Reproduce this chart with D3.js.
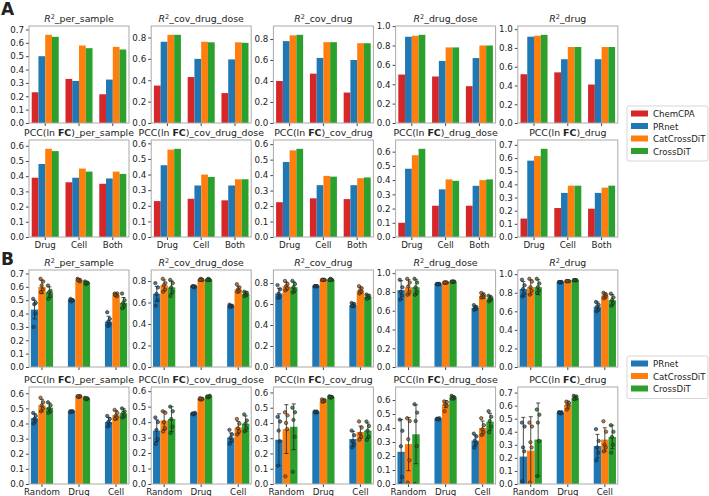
<!DOCTYPE html>
<html>
<head>
<meta charset="utf-8">
<script src="https://cdn.jsdelivr.net/npm/d3@7"></script>
<style>
  body { margin: 0; background: #fff; }
  text { font-family: "DejaVu Sans", sans-serif; fill: #222; }
</style>
</head>
<body>
<script>
// ---- categories ----
const groupsA = ['Drug', 'Cell', 'Both'];
const modelsA = ['ChemCPA', 'PRnet', 'CatCrossDiT', 'CrossDiT'];
const groupsB = ['Random', 'Drug', 'Cell'];
const modelsB = ['PRnet', 'CatCrossDiT', 'CrossDiT'];
const metrics = ['per_sample', 'cov_drug_dose', 'cov_drug', 'drug_dose', 'drug'];

// ---- panel A values: [metric][group][model] ----
const aR2 = [
  [[0.23, 0.50, 0.66, 0.645], [0.33, 0.315, 0.58, 0.56], [0.215, 0.325, 0.57, 0.55]],
  [[0.35, 0.76, 0.825, 0.825], [0.43, 0.60, 0.76, 0.755], [0.28, 0.595, 0.755, 0.75]],
  [[0.40, 0.78, 0.835, 0.84], [0.47, 0.62, 0.77, 0.77], [0.29, 0.60, 0.76, 0.76]],
  [[0.50, 0.89, 0.90, 0.91], [0.48, 0.64, 0.78, 0.78], [0.38, 0.67, 0.80, 0.80]],
  [[0.52, 0.92, 0.93, 0.94], [0.54, 0.68, 0.81, 0.81], [0.41, 0.68, 0.81, 0.81]]
];
const aPcc = [
  [[0.39, 0.48, 0.58, 0.565], [0.36, 0.39, 0.45, 0.43], [0.35, 0.385, 0.43, 0.415]],
  [[0.23, 0.46, 0.56, 0.565], [0.245, 0.33, 0.40, 0.385], [0.235, 0.33, 0.37, 0.37]],
  [[0.225, 0.485, 0.56, 0.57], [0.25, 0.335, 0.395, 0.39], [0.245, 0.335, 0.38, 0.385]],
  [[0.10, 0.48, 0.575, 0.62], [0.22, 0.335, 0.405, 0.395], [0.22, 0.36, 0.40, 0.405]],
  [[0.14, 0.58, 0.615, 0.67], [0.22, 0.335, 0.39, 0.39], [0.215, 0.335, 0.375, 0.39]]
];

// ---- panel B values: mean, std, and the 5 runs ----
const bR2Mean = [
  [[0.43, 0.60, 0.56], [0.50, 0.65, 0.63], [0.34, 0.54, 0.48]],
  [[0.68, 0.76, 0.74], [0.75, 0.81, 0.81], [0.57, 0.72, 0.68]],
  [[0.70, 0.77, 0.76], [0.77, 0.83, 0.83], [0.59, 0.73, 0.67]],
  [[0.82, 0.85, 0.85], [0.885, 0.90, 0.91], [0.63, 0.76, 0.73]],
  [[0.84, 0.86, 0.86], [0.915, 0.925, 0.935], [0.65, 0.77, 0.72]]
];
const bR2Err = [
  [[0.07, 0.05, 0.04], [0.008, 0.01, 0.01], [0.04, 0.01, 0.04]],
  [[0.07, 0.05, 0.06], [0.005, 0.005, 0.005], [0.01, 0.03, 0.02]],
  [[0.05, 0.04, 0.05], [0.005, 0.005, 0.005], [0.02, 0.03, 0.02]],
  [[0.10, 0.08, 0.08], [0.005, 0.005, 0.005], [0.02, 0.03, 0.03]],
  [[0.08, 0.08, 0.08], [0.005, 0.005, 0.005], [0.05, 0.03, 0.06]]
];
const bR2Pts = [
  [[[0.51, 0.48, 0.47, 0.40, 0.30], [0.66, 0.64, 0.61, 0.58, 0.56], [0.61, 0.57, 0.56, 0.53, 0.51]],
   [[0.50, 0.50, 0.49, 0.50, 0.51], [0.66, 0.65, 0.65, 0.64, 0.65], [0.64, 0.63, 0.62, 0.63, 0.63]],
   [[0.41, 0.36, 0.34, 0.32, 0.31], [0.55, 0.55, 0.54, 0.53, 0.54], [0.55, 0.50, 0.48, 0.46, 0.44]]],
  [[[0.78, 0.74, 0.68, 0.62, 0.57], [0.82, 0.78, 0.76, 0.72, 0.70], [0.81, 0.78, 0.74, 0.70, 0.66]],
   [[0.75, 0.75, 0.75, 0.74, 0.75], [0.81, 0.81, 0.82, 0.81, 0.81], [0.81, 0.81, 0.82, 0.81, 0.81]],
   [[0.58, 0.57, 0.57, 0.56, 0.56], [0.77, 0.74, 0.72, 0.71, 0.70], [0.70, 0.69, 0.68, 0.67, 0.66]]],
  [[[0.78, 0.74, 0.70, 0.67, 0.66], [0.82, 0.79, 0.77, 0.75, 0.73], [0.82, 0.79, 0.76, 0.73, 0.71]],
   [[0.77, 0.77, 0.77, 0.77, 0.77], [0.83, 0.83, 0.83, 0.83, 0.83], [0.83, 0.83, 0.84, 0.83, 0.83]],
   [[0.61, 0.60, 0.59, 0.58, 0.58], [0.77, 0.75, 0.73, 0.72, 0.70], [0.69, 0.68, 0.67, 0.66, 0.65]]],
  [[[0.93, 0.85, 0.80, 0.76, 0.72], [0.94, 0.90, 0.86, 0.80, 0.77], [0.94, 0.90, 0.85, 0.80, 0.77]],
   [[0.885, 0.885, 0.88, 0.885, 0.885], [0.90, 0.90, 0.90, 0.90, 0.90], [0.91, 0.91, 0.91, 0.91, 0.91]],
   [[0.66, 0.64, 0.63, 0.62, 0.61], [0.79, 0.77, 0.76, 0.75, 0.74], [0.76, 0.74, 0.73, 0.72, 0.70]]],
  [[[0.94, 0.88, 0.84, 0.79, 0.76], [0.95, 0.92, 0.86, 0.82, 0.78], [0.95, 0.90, 0.86, 0.82, 0.80]],
   [[0.915, 0.915, 0.91, 0.915, 0.915], [0.925, 0.925, 0.925, 0.925, 0.925], [0.935, 0.935, 0.935, 0.935, 0.935]],
   [[0.70, 0.67, 0.65, 0.62, 0.60], [0.80, 0.78, 0.77, 0.76, 0.74], [0.79, 0.75, 0.72, 0.69, 0.66]]]
];
const bPccMean = [
  [[0.435, 0.52, 0.505], [0.478, 0.578, 0.565], [0.41, 0.455, 0.468]],
  [[0.345, 0.41, 0.42], [0.455, 0.55, 0.565], [0.30, 0.365, 0.39]],
  [[0.29, 0.36, 0.375], [0.47, 0.545, 0.57], [0.295, 0.34, 0.35]],
  [[0.23, 0.285, 0.355], [0.465, 0.57, 0.618], [0.31, 0.40, 0.445]],
  [[0.21, 0.255, 0.34], [0.545, 0.605, 0.66], [0.29, 0.34, 0.36]]
];
const bPccErr = [
  [[0.03, 0.04, 0.03], [0.003, 0.005, 0.005], [0.03, 0.03, 0.03]],
  [[0.07, 0.06, 0.08], [0.005, 0.005, 0.005], [0.03, 0.04, 0.05]],
  [[0.17, 0.16, 0.15], [0.005, 0.01, 0.008], [0.05, 0.04, 0.05]],
  [[0.23, 0.19, 0.21], [0.003, 0.025, 0.01], [0.04, 0.05, 0.06]],
  [[0.30, 0.26, 0.28], [0.01, 0.03, 0.015], [0.09, 0.09, 0.09]]
];
const bPccPts = [
  [[[0.47, 0.45, 0.43, 0.42, 0.40], [0.57, 0.54, 0.52, 0.50, 0.48], [0.54, 0.52, 0.50, 0.48, 0.47]],
   [[0.48, 0.48, 0.48, 0.48, 0.475], [0.58, 0.58, 0.575, 0.58, 0.58], [0.57, 0.565, 0.56, 0.565, 0.565]],
   [[0.45, 0.43, 0.41, 0.40, 0.38], [0.49, 0.47, 0.45, 0.44, 0.43], [0.50, 0.48, 0.47, 0.45, 0.44]]],
  [[[0.43, 0.40, 0.35, 0.29, 0.26], [0.47, 0.46, 0.40, 0.36, 0.34], [0.50, 0.47, 0.42, 0.37, 0.33]],
   [[0.455, 0.46, 0.45, 0.455, 0.455], [0.55, 0.55, 0.545, 0.55, 0.555], [0.565, 0.57, 0.56, 0.565, 0.565]],
   [[0.35, 0.32, 0.30, 0.28, 0.26], [0.42, 0.39, 0.36, 0.34, 0.32], [0.45, 0.41, 0.39, 0.36, 0.34]]],
  [[[0.44, 0.41, 0.35, 0.28, 0.12], [0.47, 0.45, 0.40, 0.36, 0.05], [0.50, 0.47, 0.42, 0.31, 0.08]],
   [[0.475, 0.47, 0.47, 0.475, 0.47], [0.555, 0.55, 0.54, 0.545, 0.54], [0.575, 0.57, 0.565, 0.57, 0.57]],
   [[0.35, 0.32, 0.28, 0.26, 0.24], [0.41, 0.37, 0.33, 0.31, 0.29], [0.41, 0.38, 0.35, 0.31, 0.29]]],
  [[[0.46, 0.38, 0.27, 0.05, 0.00], [0.47, 0.45, 0.32, 0.17, 0.01], [0.57, 0.51, 0.45, 0.27, 0.00]],
   [[0.465, 0.47, 0.465, 0.46, 0.465], [0.59, 0.585, 0.57, 0.56, 0.52], [0.63, 0.62, 0.62, 0.61, 0.61]],
   [[0.36, 0.34, 0.31, 0.29, 0.26], [0.47, 0.42, 0.39, 0.37, 0.35], [0.52, 0.48, 0.45, 0.41, 0.37]]],
  [[[0.47, 0.44, 0.28, 0.25, 0.02], [0.47, 0.44, 0.32, 0.28, 0.01], [0.57, 0.53, 0.47, 0.33, 0.06]],
   [[0.55, 0.55, 0.545, 0.54, 0.545], [0.63, 0.62, 0.61, 0.60, 0.57], [0.675, 0.67, 0.66, 0.655, 0.65]],
   [[0.42, 0.33, 0.28, 0.24, 0.18], [0.48, 0.40, 0.30, 0.28, 0.25], [0.45, 0.40, 0.36, 0.30, 0.24]]]
];

// y tick spacing per metric column
const r2Steps = [0.1, 0.2, 0.2, 0.2, 0.2];
const pccSteps = [0.1, 0.1, 0.1, 0.1, 0.1];

const colors = {
  ChemCPA: '#d62728', PRnet: '#1f77b4', CatCrossDiT: '#ff7f0e', CrossDiT: '#2ca02c'
};

// ---- layout ----
const W = 709, H = 496;
const panelW = 100, panelH = 97;
const colX = d3.range(5).map(i => 29 + i * 122.2);
const rowY = [26, 140, 270, 387];
const jitter = [-1.4, 1.2, -0.3, 0.8, -1.0];

const svg = d3.select('body').append('svg')
  .attr('width', W).attr('height', H);

svg.append('text').attr('x', 1).attr('y', 15)
  .style('font-size', '17px').style('font-weight', 'bold').text('A');
svg.append('text').attr('x', 1).attr('y', 265)
  .style('font-size', '17px').style('font-weight', 'bold').text('B');

function addTitle(g, kind, metric, w) {
  let t = g.append('text').attr('x', w / 2).attr('y', -4)
    .attr('text-anchor', 'middle').style('font-size', '9.4px');
  if (kind === 'r2') {
    t.append('tspan').style('font-style', 'italic').text('R');
    t.append('tspan').attr('dy', -3.5).style('font-size', '6.5px').text('2');
    t.append('tspan').attr('dy', 3.5).text('_' + metric);
  } else {
    t.append('tspan').text('PCC(ln ');
    t.append('tspan').style('font-weight', 'bold').text('FC');
    t.append('tspan').text(')_' + metric);
  }
}

let clipId = 0;

function drawPanel(opts) {
  const { x, y, groups, models, values, errs, pts, kind, metric, step, showX, pIn, pOut } = opts;
  const w = panelW, h = panelH;
  const g = svg.append('g').attr('transform', `translate(${x},${y})`);

  // y domain padded like matplotlib autoscale on the tallest mark
  let top = d3.max(values.flat());
  if (errs) {
    values.forEach((row, gi) => row.forEach((v, mi) => { top = Math.max(top, v + errs[gi][mi]); }));
    top = Math.max(top, d3.max(pts.flat(2)));
  }
  const yS = d3.scaleLinear().domain([0, top * 1.1]).range([h, 0]);
  const x0 = d3.scaleBand().domain(groups).range([0, w]).paddingInner(pIn).paddingOuter(pOut);
  const x1 = d3.scaleBand().domain(models).range([0, x0.bandwidth()]);

  const id = 'clip' + (clipId++);
  g.append('clipPath').attr('id', id).append('rect').attr('width', w).attr('height', h);
  const plot = g.append('g').attr('clip-path', `url(#${id})`);

  const flat = [];
  groups.forEach((grp, gi) => models.forEach((m, mi) => {
    flat.push({ grp, m, v: values[gi][mi], e: errs ? errs[gi][mi] : null, p: pts ? pts[gi][mi] : null });
  }));

  plot.selectAll('rect.bar').data(flat).enter().append('rect')
    .attr('class', 'bar')
    .attr('x', d => x0(d.grp) + x1(d.m))
    .attr('width', x1.bandwidth())
    .attr('y', d => yS(d.v))
    .attr('height', d => h - yS(d.v))
    .attr('fill', d => colors[d.m]);

  if (errs) {
    const cx = d => x0(d.grp) + x1(d.m) + x1.bandwidth() / 2;
    const eb = plot.selectAll('g.err').data(flat).enter().append('g').attr('class', 'err')
      .attr('stroke', '#222').attr('stroke-width', 0.8);
    eb.append('line').attr('x1', cx).attr('x2', cx)
      .attr('y1', d => yS(d.v - d.e)).attr('y2', d => yS(d.v + d.e));
    eb.append('line').attr('x1', d => cx(d) - 2).attr('x2', d => cx(d) + 2)
      .attr('y1', d => yS(d.v + d.e)).attr('y2', d => yS(d.v + d.e));
    eb.append('line').attr('x1', d => cx(d) - 2).attr('x2', d => cx(d) + 2)
      .attr('y1', d => yS(d.v - d.e)).attr('y2', d => yS(d.v - d.e));

    const dots = [];
    flat.forEach(d => d.p.forEach((pv, k) => dots.push({ x: cx(d) + jitter[k], v: pv, m: d.m })));
    plot.selectAll('circle.run').data(dots).enter().append('circle')
      .attr('class', 'run')
      .attr('cx', d => d.x).attr('cy', d => yS(d.v)).attr('r', 1.7)
      .attr('fill', d => d3.color(colors[d.m]).darker(1.2))
      .attr('fill-opacity', 0.75)
      .attr('stroke', '#222').attr('stroke-width', 0.6);
  }

  // axes
  const ticks = d3.range(0, top * 1.1 + 1e-9, step);
  const ya = g.append('g').call(d3.axisLeft(yS).tickValues(ticks)
    .tickFormat(d3.format('.1f')).tickSize(3).tickPadding(2));
  const xa = g.append('g').attr('transform', `translate(0,${h})`)
    .call(d3.axisBottom(x0).tickSize(3).tickPadding(2).tickFormat(showX ? null : ''));
  [ya, xa].forEach(a => {
    a.select('.domain').remove();
    a.selectAll('.tick line').attr('stroke', '#444');
    a.selectAll('.tick text').style('font-size', '8.7px').style('font-family', '"DejaVu Sans", sans-serif').attr('fill', '#222');
  });

  g.append('rect').attr('width', w).attr('height', h)
    .attr('fill', 'none').attr('stroke', '#aaa').attr('stroke-width', 1);

  addTitle(g, kind, metric, w);
}

metrics.forEach((m, i) => {
  drawPanel({ x: colX[i], y: rowY[0], groups: groupsA, models: modelsA, values: aR2[i],
    kind: 'r2', metric: m, step: r2Steps[i], showX: false, pIn: 0.2, pOut: 0.08 });
  drawPanel({ x: colX[i], y: rowY[1], groups: groupsA, models: modelsA, values: aPcc[i],
    kind: 'pcc', metric: m, step: pccSteps[i], showX: true, pIn: 0.2, pOut: 0.08 });
  drawPanel({ x: colX[i], y: rowY[2], groups: groupsB, models: modelsB, values: bR2Mean[i],
    errs: bR2Err[i], pts: bR2Pts[i], kind: 'r2', metric: m, step: r2Steps[i], showX: false, pIn: 0.4, pOut: 0.05 });
  drawPanel({ x: colX[i], y: rowY[3], groups: groupsB, models: modelsB, values: bPccMean[i],
    errs: bPccErr[i], pts: bPccPts[i], kind: 'pcc', metric: m, step: pccSteps[i], showX: true, pIn: 0.4, pOut: 0.05 });
});

function drawLegend(x, y, items) {
  const rowH = 12.5;
  const g = svg.append('g').attr('transform', `translate(${x},${y})`);
  g.append('rect').attr('width', 81).attr('height', items.length * rowH + 5)
    .attr('rx', 2).attr('fill', '#fff').attr('stroke', '#ccc').attr('stroke-width', 0.8);
  const it = g.selectAll('g.item').data(items).enter().append('g')
    .attr('transform', (d, i) => `translate(4,${4 + i * rowH})`);
  it.append('rect').attr('width', 17).attr('height', 6).attr('y', 0.5).attr('fill', d => colors[d]);
  it.append('text').attr('x', 22).attr('y', 7).style('font-size', '8.6px').text(d => d);
}

drawLegend(627, 106, modelsA);
drawLegend(627, 356, modelsB);
</script>
</body>
</html>
